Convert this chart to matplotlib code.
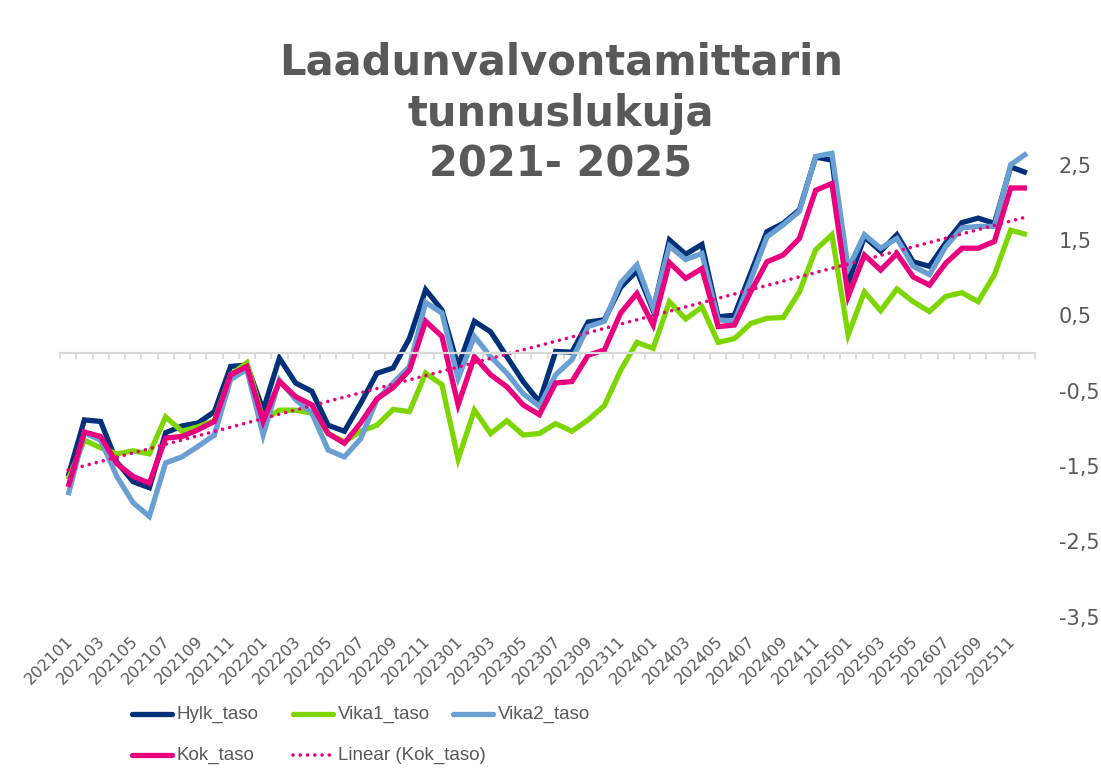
"""
Laadunvalvontamittarin tunnuslukuja 2021-2025, line chart with linear trend.
"""

import numpy as np
import matplotlib
matplotlib.use("Agg")
import matplotlib.pyplot as plt
import matplotlib.transforms as mtransforms
from matplotlib import font_manager
from matplotlib.lines import Line2D

# --- data -------------------------------------------------------------
months = [
    "202101", "202102", "202103", "202104", "202105", "202106",
    "202107", "202108", "202109", "202110", "202111", "202112",
    "202201", "202202", "202203", "202204", "202205", "202206",
    "202207", "202208", "202209", "202210", "202211", "202212",
    "202301", "202302", "202303", "202304", "202305", "202306",
    "202307", "202308", "202309", "202310", "202311", "202312",
    "202401", "202402", "202403", "202404", "202405", "202406",
    "202407", "202408", "202409", "202410", "202411", "202412",
    "202501", "202502", "202503", "202504", "202505", "202506",
    "202607", "202508", "202509", "202510", "202511", "202512",
]

hylk_taso = [
    -1.64, -0.89, -0.91, -1.45, -1.71, -1.79, -1.06, -0.97, -0.93, -0.78,
    -0.18, -0.16, -0.76, -0.07, -0.40, -0.51, -0.96, -1.04, -0.67, -0.27,
    -0.20, 0.19, 0.84, 0.57, -0.18, 0.42, 0.28, -0.05, -0.38, -0.65,
    0.02, 0.01, 0.41, 0.44, 0.87, 1.09, 0.56, 1.50, 1.31, 1.44,
    0.48, 0.50, 1.06, 1.61, 1.72, 1.90, 2.60, 2.56, 0.93, 1.54,
    1.35, 1.57, 1.21, 1.15, 1.46, 1.73, 1.79, 1.72, 2.47, 2.39,
]

vika1_taso = [
    -1.68, -1.16, -1.26, -1.34, -1.30, -1.34, -0.85, -1.04, -0.98, -0.90,
    -0.29, -0.13, -0.89, -0.76, -0.76, -0.80, -1.07, -1.18, -1.04, -0.96,
    -0.75, -0.78, -0.27, -0.42, -1.41, -0.76, -1.07, -0.90, -1.09, -1.07,
    -0.94, -1.04, -0.89, -0.70, -0.23, 0.14, 0.06, 0.68, 0.45, 0.61,
    0.14, 0.19, 0.39, 0.46, 0.47, 0.81, 1.37, 1.57, 0.24, 0.81,
    0.56, 0.85, 0.68, 0.55, 0.75, 0.80, 0.68, 1.04, 1.63, 1.57,
]

vika2_taso = [
    -1.89, -1.06, -1.16, -1.64, -1.99, -2.17, -1.46, -1.38, -1.24, -1.09,
    -0.35, -0.22, -1.09, -0.36, -0.62, -0.80, -1.29, -1.38, -1.14, -0.62,
    -0.40, -0.18, 0.67, 0.53, -0.34, 0.22, -0.05, -0.27, -0.54, -0.71,
    -0.29, -0.09, 0.35, 0.42, 0.93, 1.17, 0.59, 1.42, 1.24, 1.32,
    0.44, 0.42, 0.97, 1.54, 1.70, 1.88, 2.61, 2.65, 1.12, 1.57,
    1.39, 1.52, 1.15, 1.04, 1.41, 1.66, 1.68, 1.68, 2.50, 2.65,
]

kok_taso = [
    -1.78, -1.05, -1.11, -1.47, -1.64, -1.73, -1.13, -1.11, -1.02, -0.91,
    -0.29, -0.18, -0.91, -0.38, -0.58, -0.69, -1.07, -1.20, -0.93, -0.61,
    -0.46, -0.23, 0.42, 0.22, -0.69, -0.05, -0.29, -0.45, -0.69, -0.82,
    -0.40, -0.38, -0.03, 0.04, 0.53, 0.79, 0.37, 1.20, 0.99, 1.12,
    0.35, 0.37, 0.81, 1.21, 1.30, 1.52, 2.16, 2.25, 0.75, 1.30,
    1.10, 1.32, 1.01, 0.90, 1.19, 1.39, 1.39, 1.48, 2.19, 2.19,
]

series_names = ["Hylk_taso", "Vika1_taso", "Vika2_taso", "Kok_taso"]
series_colors = ["#00307A", "#7ED600", "#6A9FD4", "#E8007F"]

# --- fonts ------------------------------------------------------------
installed = {f.name for f in font_manager.fontManager.ttflist}
narrow = "Liberation Sans Narrow" if "Liberation Sans Narrow" in installed else "Liberation Sans"

text_grey = "#595959"
axis_grey = "#D9D9D9"
dotted = (0, (0.01, 2.0))

# --- figure -----------------------------------------------------------
W, H = 1101, 780
fig = plt.figure(figsize=(W / 100, H / 100), dpi=100)
ax = fig.add_axes([0.0545, 0.2096, 0.8856, 0.6276])

x = np.arange(len(months))
styles = []
for vals, name, color in zip([hylk_taso, vika1_taso, vika2_taso, kok_taso],
                             series_names, series_colors):
    ax.plot(x, vals, color=color, linewidth=3.8, label=name,
            solid_joinstyle="miter", solid_capstyle="butt")
    styles.append((name, color, 3.8, "-"))

# linear trend of Kok_taso
slope, intercept = np.polyfit(x, kok_taso, 1)
ax.plot(x, slope * x + intercept, color="#E8007F", linewidth=2.6,
        linestyle=dotted, dash_capstyle="round", label="Linear (Kok_taso)")
styles.append(("Linear (Kok_taso)", "#E8007F", 2.6, dotted))

ax.set_xlim(-0.5, len(months) - 0.5)
ax.set_ylim(-3.5, 3.0)

# horizontal axis crossing at zero
for side in ["top", "left", "right"]:
    ax.spines[side].set_visible(False)
ax.spines["bottom"].set_position(("data", 0))
ax.spines["bottom"].set_color(axis_grey)
ax.spines["bottom"].set_linewidth(1.6)
ax.set_xticks(np.arange(-0.5, len(months), 1))
ax.tick_params(axis="x", direction="out", length=4, width=1.3,
               color=axis_grey, labelbottom=False)

# category labels at the bottom of the plot area
trans = mtransforms.blended_transform_factory(ax.transData, ax.transAxes)
for i in range(0, len(months), 2):
    ax.text(i + 0.15, -0.045, months[i], transform=trans, rotation=45,
            rotation_mode="anchor", ha="right", va="center",
            fontsize=11.5, color=text_grey)

# value axis on the right
yticks = np.arange(-3.5, 2.6, 1.0)
ax.yaxis.tick_right()
ax.set_yticks(yticks)
ax.set_yticklabels([f"{v:.1f}".replace(".", ",") for v in yticks])
ax.tick_params(axis="y", length=0, pad=17, labelsize=15, labelcolor=text_grey)

# title
fig.text(0.5095, 0.854, "Laadunvalvontamittarin\ntunnuslukuja\n2021- 2025",
         ha="center", va="center", fontsize=30, fontweight="bold",
         color=text_grey, linespacing=1.27)

# legend laid out in Excel-like fixed slots (row-major order)
slots = [(132, 714), (293, 714), (453, 714), (132, 755), (293, 755)]
for (px, py), (name, color, lw, ls) in zip(slots, styles):
    y = 1 - py / H
    fig.add_artist(Line2D([px / W, (px + 40) / W], [y, y],
                          transform=fig.transFigure, color=color,
                          linewidth=lw, linestyle=ls,
                          solid_capstyle="round", dash_capstyle="round"))
    fig.text((px + 45) / W, y, name, ha="left", va="center",
             fontsize=13.5, family=narrow, color=text_grey)

plt.savefig("out.png", dpi=100)
